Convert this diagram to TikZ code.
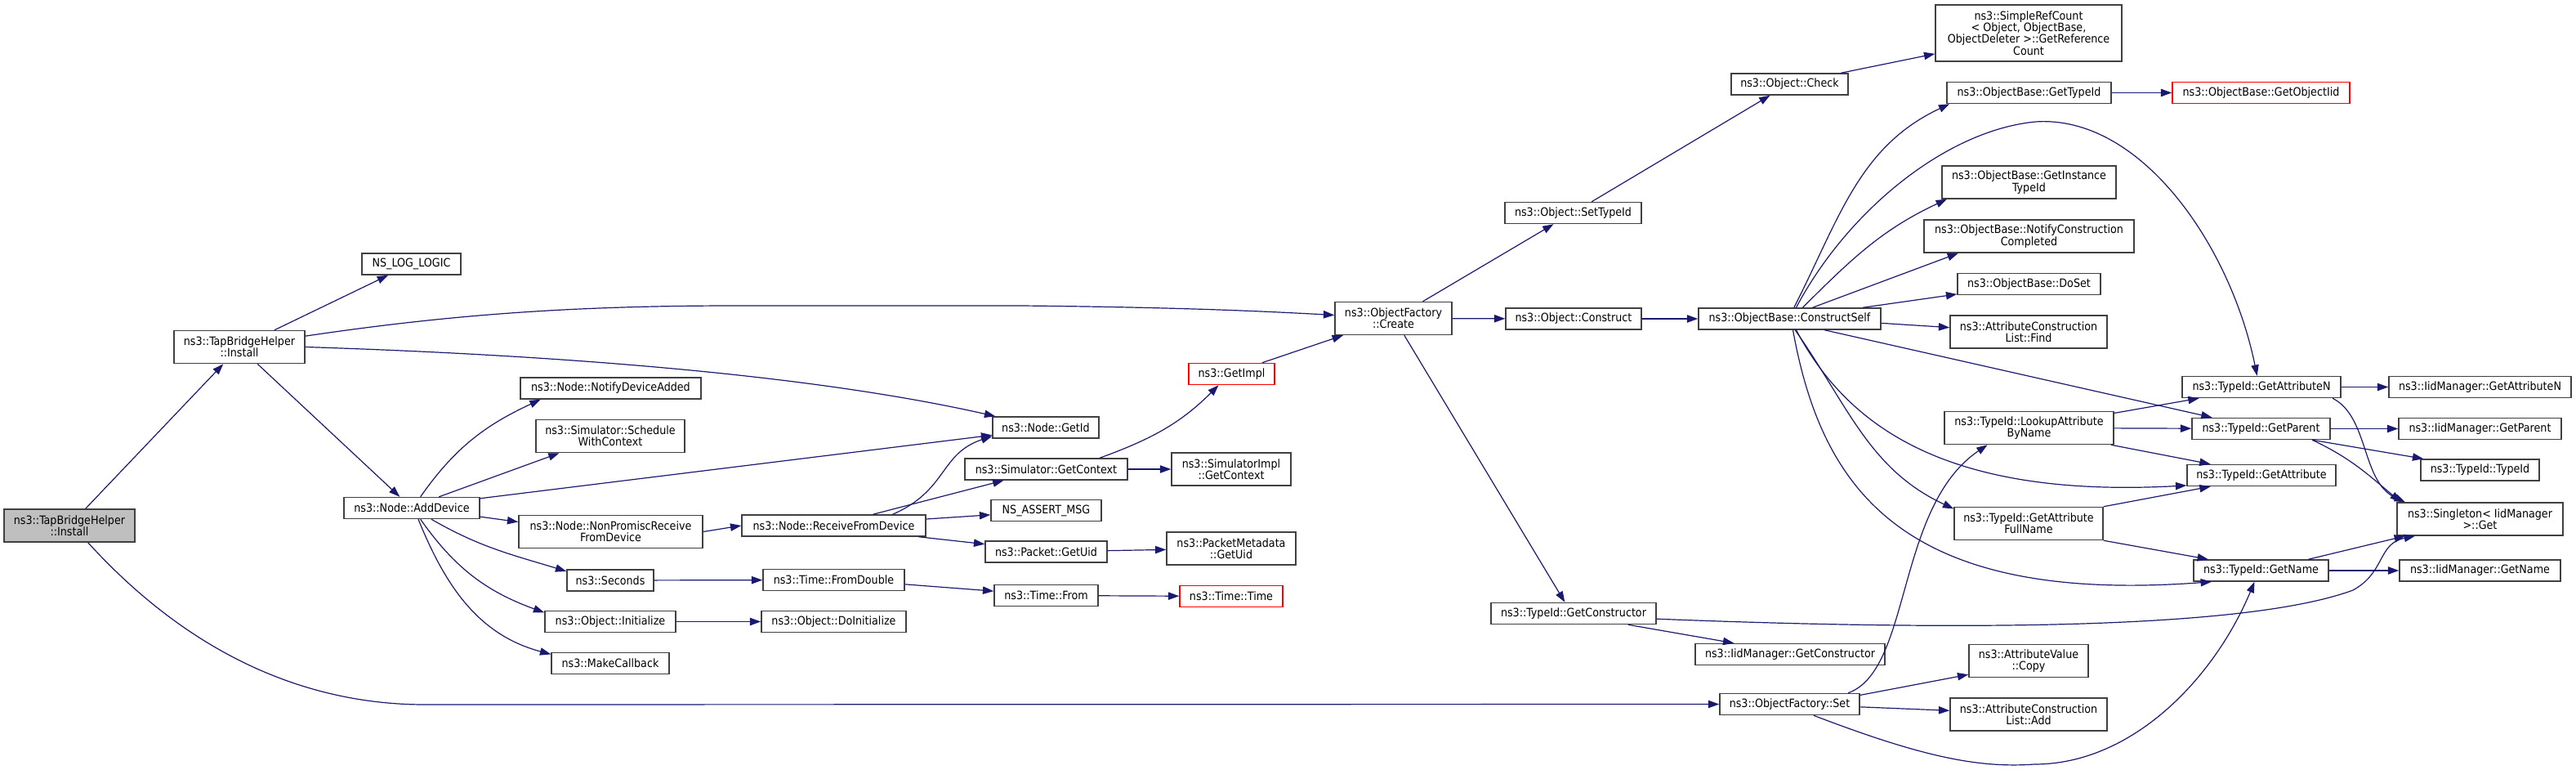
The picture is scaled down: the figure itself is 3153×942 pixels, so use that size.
\documentclass[tikz,border=0pt]{standalone}
\usepackage{fontspec}
\setmainfont{DejaVu Sans Condensed}
\usetikzlibrary{arrows.meta}
\definecolor{edgeblue}{HTML}{191970}
\definecolor{boxline}{HTML}{404040}
\definecolor{boxred}{HTML}{FF0000}
\definecolor{rootgray}{HTML}{BFBFBF}

\tikzstyle{fn} = [draw=boxline, line width=1.1pt, fill=white, align=center, inner xsep=4pt, inner ysep=1pt, minimum height=19.5pt, font=\fontsize{10.6}{10.8}\selectfont]
\tikzstyle{fn2} = [fn, minimum height=30pt]
\tikzstyle{fn4} = [fn, minimum height=52pt]
\tikzstyle{redbox} = [draw=boxred]
\tikzstyle{focus} = [fill=rootgray]
\tikzstyle{call} = [draw=edgeblue, line width=0.9pt, -{Triangle[length=10pt,width=7pt]}]

\begin{document}
\begin{tikzpicture}[x=0.75pt,y=-0.75pt]
\useasboundingbox (0,0) rectangle (3153,942);
\node[fn2,focus,minimum width=120pt] (root) at (85,643) {ns3::TapBridgeHelper\\::Install};
\node[fn2,minimum width=120pt] (tbi) at (293,424.5) {ns3::TapBridgeHelper\\::Install};
\node[fn,minimum width=90.75pt] (nslog) at (503.5,323) {NS\_LOG\_LOGIC};
\node[fn,minimum width=124.5pt] (adddev) at (504,621.5) {ns3::Node::AddDevice};
\node[fn,minimum width=165.75pt] (notify) at (747.5,475) {ns3::Node::NotifyDeviceAdded};
\node[fn2,minimum width=136.5pt] (sched) at (747,533.5) {ns3::Simulator::Schedule\\WithContext};
\node[fn2,minimum width=168.75pt] (nonprom) at (747.5,650.5) {ns3::Node::NonPromiscReceive\\FromDevice};
\node[fn,minimum width=79.5pt] (seconds) at (747,710) {ns3::Seconds};
\node[fn,minimum width=120pt] (objinit) at (747,760.5) {ns3::Object::Initialize};
\node[fn,minimum width=108pt] (makecb) at (747,811.5) {ns3::MakeCallback};
\node[fn,minimum width=97.5pt] (getid) at (1280,523) {ns3::Node::GetId};
\node[fn,minimum width=168.75pt] (recv) at (1020.5,643) {ns3::Node::ReceiveFromDevice};
\node[fn,minimum width=149.25pt] (simgetctx) at (1280.5,574) {ns3::Simulator::GetContext};
\node[fn,minimum width=101.25pt] (nsassert) at (1280.5,624.5) {NS\_ASSERT\_MSG};
\node[fn,minimum width=111.75pt] (pktuid) at (1280.5,675) {ns3::Packet::GetUid};
\node[fn,minimum width=129.75pt] (fromdbl) at (1020.5,709.5) {ns3::Time::FromDouble};
\node[fn,minimum width=95.25pt] (timefrom) at (1280.5,728.5) {ns3::Time::From};
\node[fn,minimum width=132.75pt] (doinit) at (1020.5,760.5) {ns3::Object::DoInitialize};
\node[fn,redbox,minimum width=78.75pt] (getimpl) at (1507.5,457.5) {ns3::GetImpl};
\node[fn2,minimum width=109.5pt] (simimplctx) at (1507,574) {ns3::SimulatorImpl\\::GetContext};
\node[fn2,minimum width=118.5pt] (pmuid) at (1507,671) {ns3::PacketMetadata\\::GetUid};
\node[fn,redbox,minimum width=94.5pt] (timetime) at (1507,729.5) {ns3::Time::Time};
\node[fn2,minimum width=107.25pt] (create) at (1705.5,389.5) {ns3::ObjectFactory\\::Create};
\node[fn,minimum width=125.25pt] (settypeid) at (1925.5,260.5) {ns3::Object::SetTypeId};
\node[fn,minimum width=124.5pt] (construct) at (1926,390) {ns3::Object::Construct};
\node[fn,minimum width=151.5pt] (getctor) at (1926,750.5) {ns3::TypeId::GetConstructor};
\node[fn,minimum width=107.25pt] (check) at (2190.5,103) {ns3::Object::Check};
\node[fn,minimum width=167.25pt] (cself) at (2190.5,390) {ns3::ObjectBase::ConstructSelf};
\node[fn,minimum width=174pt] (iidgetctor) at (2191,800.5) {ns3::IidManager::GetConstructor};
\node[fn,minimum width=128.25pt] (ofset) at (2190.5,861.5) {ns3::ObjectFactory::Set};
\node[fn4,minimum width=171pt] (srefcount) at (2483,40.5) {ns3::SimpleRefCount\\< Object, ObjectBase,\\ ObjectDeleter >::GetReference\\Count};
\node[fn,minimum width=150.75pt] (obgettid) at (2483.5,113.5) {ns3::ObjectBase::GetTypeId};
\node[fn,redbox,minimum width=162.75pt] (getobjiid) at (2767.5,113.5) {ns3::ObjectBase::GetObjectIid};
\node[fn2,minimum width=159.75pt] (getinst) at (2483.5,223) {ns3::ObjectBase::GetInstance\\TypeId};
\node[fn2,minimum width=192.75pt] (notifyc) at (2483.5,289) {ns3::ObjectBase::NotifyConstruction\\Completed};
\node[fn,minimum width=131.25pt] (doset) at (2483.5,347.5) {ns3::ObjectBase::DoSet};
\node[fn2,minimum width=144pt] (aclfind) at (2483,406) {ns3::AttributeConstruction\\List::Find};
\node[fn2,minimum width=155.25pt] (lookup) at (2483.5,523.5) {ns3::TypeId::LookupAttribute\\ByName};
\node[fn2,minimum width=136.5pt] (fullname) at (2483,640.5) {ns3::TypeId::GetAttribute\\FullName};
\node[fn2,minimum width=109.5pt] (avcopy) at (2483,808.5) {ns3::AttributeValue\\::Copy};
\node[fn2,minimum width=144pt] (acladd) at (2483,874) {ns3::AttributeConstruction\\List::Add};
\node[fn,minimum width=145.5pt] (getattrn) at (2768,473.5) {ns3::TypeId::GetAttributeN};
\node[fn,minimum width=126.75pt] (getparent) at (2767.5,524.5) {ns3::TypeId::GetParent};
\node[fn,minimum width=136.5pt] (getattr) at (2768,581.5) {ns3::TypeId::GetAttribute};
\node[fn,minimum width=123.75pt] (getname) at (2767.5,698) {ns3::TypeId::GetName};
\node[fn,minimum width=167.25pt] (iidgetattrn) at (3035.5,473.5) {ns3::IidManager::GetAttributeN};
\node[fn,minimum width=149.25pt] (iidgetparent) at (3035.5,524.5) {ns3::IidManager::GetParent};
\node[fn,minimum width=108.75pt] (typeidtypeid) at (3035.5,575) {ns3::TypeId::TypeId};
\node[fn2,minimum width=152.25pt] (singleton) at (3035.5,635) {ns3::Singleton< IidManager\\ >::Get};
\node[fn,minimum width=147.75pt] (iidgetname) at (3035.5,698) {ns3::IidManager::GetName};

\draw[call] (root) -- (tbi);
\draw[call] ([xshift=17pt]root.south) .. controls (250,820) and (400,862) .. (520,862) -- (ofset.west);
\draw[call] (tbi) -- (nslog);
\draw[call] ([yshift=10pt]tbi.east) .. controls (550,385) and (700,374) .. (900,374) -- (1250,374) .. controls (1450,376) and (1550,381) .. ([yshift=3pt]create.west);
\draw[call] (tbi.east) .. controls (700,435) and (1000,460) .. ([xshift=3pt]getid.north west);
\draw[call] (tbi) -- (adddev);
\draw[call] ([xshift=8pt]adddev.north) to[out=55,in=205] ([xshift=19pt]notify.south west);
\draw[call] ([xshift=25pt]adddev.north) -- ([xshift=22pt]sched.south west);
\draw[call] ([yshift=-1.5pt]adddev.north east) -- ([yshift=-7pt]getid.west);
\draw[call] ([yshift=-8pt]adddev.east) -- ([yshift=9pt]nonprom.west);
\draw[call] ([xshift=18pt]adddev.south) to[out=-30,in=163] ([yshift=-2pt]seconds.north west);
\draw[call] ([xshift=8pt]adddev.south) to[out=-55,in=160] ([yshift=-2pt]objinit.north west);
\draw[call] ([xshift=6pt]adddev.south) to[out=-68,in=165] ([yshift=-2pt]makecb.north west);
\draw[call] (nonprom.east) -- (recv.west);
\draw[call] ([xshift=54pt]recv.north) .. controls (1160,600) and (1150,555) .. ([yshift=-8pt]getid.west);
\draw[call] ([xshift=36pt]recv.north) -- ([xshift=-39pt]simgetctx.south);
\draw[call] ([yshift=6pt]recv.east) -- ([yshift=-4pt]nsassert.west);
\draw[call] ([xshift=-7pt]recv.south east) -- ([yshift=7pt]pktuid.west);
\draw[call] ([xshift=-26pt]simgetctx.north east) to[out=20,in=-135] ([xshift=-12pt]getimpl.south);
\draw[call] (simgetctx) -- (simimplctx);
\draw[call] (pktuid) -- (pmuid);
\draw[call] (seconds) -- (fromdbl);
\draw[call] ([yshift=-4pt]fromdbl.east) -- ([yshift=4pt]timefrom.west);
\draw[call] (timefrom) -- (timetime);
\draw[call] (objinit) -- (doinit);
\draw[call] ([xshift=28pt]getimpl.north) -- ([xshift=8pt]create.south west);
\draw[call] ([xshift=27pt]create.north) -- ([xshift=-18pt]settypeid.south);
\draw[call] (create) -- (construct);
\draw[call] ([xshift=10pt]create.south) -- ([xshift=-8pt]getctor.north);
\draw[call] ([xshift=17pt]settypeid.north) -- ([xshift=-18pt]check.south);
\draw[call] ([xshift=-7pt]check.north east) -- ([yshift=-19pt]srefcount.west);
\draw[call] (construct) -- (cself);
\draw[call] (obgettid) -- (getobjiid);
\draw[call] ([xshift=4pt]cself.north) to[out=63,in=205] ([xshift=3pt]obgettid.south west);
\draw[call] ([xshift=6pt]cself.north) .. controls (2260,260) and (2380,160) .. (2491,149) .. controls (2620,140) and (2730,300) .. ([xshift=-4pt]getattrn.north);
\draw[call] ([xshift=12pt]cself.north) to[out=45,in=205] ([xshift=5pt]getinst.south west);
\draw[call] ([xshift=21pt]cself.north) -- ([xshift=32pt]notifyc.south west);
\draw[call] ([xshift=-17pt]cself.north east) -- ([yshift=1pt]doset.south west);
\draw[call] ([yshift=-4pt]cself.east) -- ([yshift=4pt]aclfind.west);
\draw[call] ([xshift=32pt]cself.south) -- ([xshift=19pt]getparent.north west);
\draw[call] ([xshift=6pt]cself.south) .. controls (2260,520) and (2380,610) .. ([yshift=1pt]getattr.south west);
\draw[call] ([xshift=5pt]cself.south) to[out=-55,in=155] ([yshift=-2pt]fullname.north west);
\draw[call] ([xshift=3pt]cself.south) .. controls (2230,600) and (2330,740) .. ([xshift=17pt]getname.south west);
\draw[call] ([yshift=-2pt]lookup.north east) -- ([xshift=16pt]getattrn.south west);
\draw[call] (lookup) -- (getparent);
\draw[call] ([xshift=-3pt]lookup.south east) -- ([xshift=22pt]getattr.north west);
\draw[call] (fullname.north east) -- ([xshift=22pt]getattr.south west);
\draw[call] (fullname.south east) -- ([xshift=14pt]getname.north west);
\draw[call] (getattrn) -- (iidgetattrn);
\draw[call] ([xshift=-8pt]getattrn.south east) .. controls (2900,510) and (2890,590) .. ([xshift=8pt]singleton.north west);
\draw[call] (getparent) -- (iidgetparent);
\draw[call] ([xshift=-17pt]getparent.south east) -- ([xshift=3pt]typeidtypeid.north west);
\draw[call] ([xshift=-17pt]getparent.south east) to[out=-25,in=140] ([xshift=4pt]singleton.north west);
\draw[call] (getname) -- (iidgetname);
\draw[call] ([xshift=-19pt]getname.north east) -- ([xshift=8pt]singleton.south west);
\draw[call] ([xshift=-11pt]ofset.north east) .. controls (2340,820) and (2320,620) .. ([xshift=40pt]lookup.south west);
\draw[call] ([yshift=-2pt]ofset.north east) -- ([yshift=3pt]avcopy.south west);
\draw[call] ([yshift=-2.5pt]ofset.east) -- ([yshift=3.5pt]acladd.west);
\draw[call] ([xshift=22pt]ofset.south) .. controls (2350,925) and (2420,940) .. (2490,935) .. controls (2610,935) and (2710,830) .. ([xshift=-6pt]getname.south);
\draw[call] ([xshift=50pt]getctor.south) -- ([xshift=36pt]iidgetctor.north west);
\draw[call] ([yshift=-5pt]getctor.east) .. controls (2400,772) and (2750,770) .. (2880,722) .. controls (2920,700) and (2910,665) .. ([xshift=17pt]singleton.south west);
\end{tikzpicture}
\end{document}
